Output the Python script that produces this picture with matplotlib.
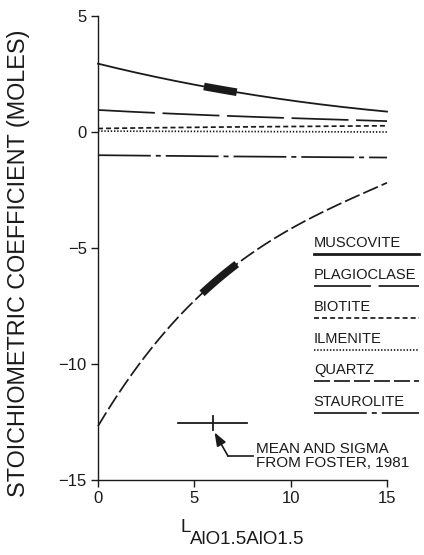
import numpy as np
import matplotlib
matplotlib.use("Agg")
import matplotlib.pyplot as plt

plt.rcParams['font.family'] = ['Liberation Sans', 'DejaVu Sans']
plt.rcParams['lines.scale_dashes'] = False

# ---- data ----
x = [0, 2.5, 5, 7.5, 10, 12.5, 15]
muscovite = [2.95, 2.45, 2.05, 1.68, 1.35, 1.10, 0.88]
plagioclase = [0.95, 0.84, 0.75, 0.67, 0.60, 0.53, 0.47]
biotite = [0.15, 0.18, 0.20, 0.22, 0.24, 0.25, 0.27]
ilmenite = [0.04, 0.03, 0.03, 0.02, 0.01, 0.01, 0.0]
quartz = [-12.7, -9.55, -7.3, -5.55, -4.15, -3.1, -2.2]
staurolite = [-1.0, -1.02, -1.04, -1.06, -1.07, -1.09, -1.1]

musc_range = [5.5, 7.2]
qtz_range = [5.4, 7.2]

foster_mean = 5.95
foster_low, foster_high = 4.15, 7.73
foster_y = -12.55

legend_names = ['MUSCOVITE', 'PLAGIOCLASE', 'BIOTITE', 'ILMENITE', 'QUARTZ', 'STAUROLITE']

xticks = [0, 5, 10, 15]
yticks = [5, 0, -5, -10, -15]

# ---- styles ----
lw = 1.25
styles = {
    'MUSCOVITE': dict(ls='-', lw=1.3),
    'PLAGIOCLASE': dict(ls=(0, (41, 5.5)), lw=lw),
    'BIOTITE': dict(ls=(0, (3.6, 2.2)), lw=lw),
    'ILMENITE': dict(ls=(0, (1.0, 1.3)), lw=lw),
    'QUARTZ': dict(ls=(0, (11.5, 2.9)), lw=lw),
    'STAUROLITE': dict(ls=(0, (38, 3.6, 3.6, 3.6)), lw=lw),
}
series = {'MUSCOVITE': muscovite, 'PLAGIOCLASE': plagioclase, 'BIOTITE': biotite,
          'ILMENITE': ilmenite, 'QUARTZ': quartz, 'STAUROLITE': staurolite}

W, H = 424, 555
fig = plt.figure(figsize=(W / 100, H / 100), dpi=100)
ax = fig.add_axes([98 / W, 1 - 480 / H, (387 - 98) / W, (480 - 16) / H])
ax.set_xlim(0, 15)
ax.set_ylim(-15, 5)

col = '#1a1a1a'
xs = np.linspace(0, 15, 300)
for name in legend_names:
    coef = np.polyfit(x, series[name], 3)
    ys = np.polyval(coef, xs)
    st = styles[name]
    ax.plot(xs, ys, color=col, linestyle=st['ls'], linewidth=st['lw'],
            dash_capstyle='butt', clip_on=False)

# thick segments (mean +- sigma)
for vals, rng in [(muscovite, musc_range), (quartz, qtz_range)]:
    coef = np.polyfit(x, vals, 3)
    sx = np.linspace(rng[0], rng[1], 30)
    ax.plot(sx, np.polyval(coef, sx), color=col, linewidth=5.5,
            solid_capstyle='butt')

# Foster error bar
ax.plot([foster_low, foster_high], [foster_y, foster_y], color=col, lw=1.3)
ax.plot([foster_mean, foster_mean], [foster_y - 0.3, foster_y + 0.3], color=col, lw=1.3)

# arrow
ax.plot([6.75, 8.05], [-13.97, -13.97], color=col, lw=1.2)
ax.annotate('', xy=(6.05, -12.95), xytext=(6.75, -13.97),
            arrowprops=dict(arrowstyle='-|>,head_length=0.8,head_width=0.3',
                            color=col, lw=1.2, shrinkA=0, shrinkB=0))
ax.text(8.2, -13.95, 'MEAN AND SIGMA\nFROM FOSTER, 1981', fontsize=11,
        color=col, ha='left', va='center', linespacing=1.0)

# legend drawn manually
def py2d(py):
    return (131 - py) / 23.2

line_py = [253, 285, 317, 349, 380, 412]
for name, lp in zip(legend_names, line_py):
    yl = py2d(lp)
    st = styles[name]
    lwl = 2.0 if name == 'MUSCOVITE' else st['lw']
    ax.plot([11.2, 16.65], [yl, yl], color=col, linestyle=st['ls'],
            linewidth=lwl, dash_capstyle='butt', clip_on=False)
    ax.text(11.2, py2d(lp - 11), name, fontsize=10.5, color=col,
            ha='left', va='center')

# axes styling
for s in ['top', 'right']:
    ax.spines[s].set_visible(False)
for s in ['left', 'bottom']:
    ax.spines[s].set_linewidth(1.0)
    ax.spines[s].set_color(col)
ax.set_xticks(xticks)
ax.set_yticks(yticks)
ax.set_yticklabels(['5', '0', '\u22125', '\u221210', '\u221215'])
ax.tick_params(direction='out', length=5, width=1.0, colors=col,
               labelsize=12, pad=3)

fig.text(19 / W, 1 - 263 / H, 'STOICHIOMETRIC COEFFICIENT (MOLES)',
         rotation=90, ha='center', va='center', fontsize=16.8, color=col)
fig.text(181 / W, 1 - 527 / H, 'L', ha='left', va='center', fontsize=13.5, color=col)
fig.text(190 / W, 1 - 539 / H, 'AlO1.5AlO1.5', ha='left', va='center',
         fontsize=13.5, color=col)

fig.savefig('out.png', dpi=100, facecolor='white')
